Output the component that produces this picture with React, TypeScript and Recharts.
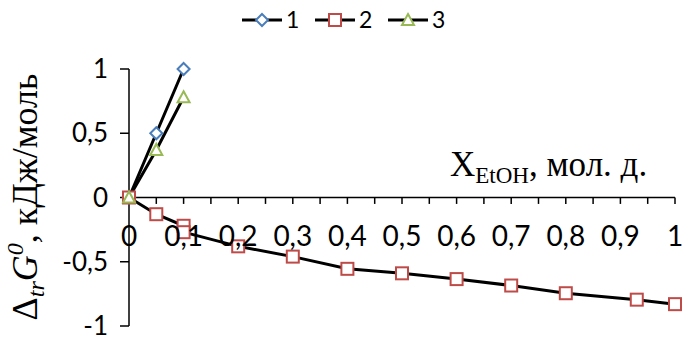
import { LineChart, Line, XAxis, YAxis, ReferenceLine } from "recharts"

// series 1
const s1X = [0, 0.05, 0.1]
const s1Y = [0, 0.5, 1]
// series 2
const s2X = [0, 0.05, 0.1, 0.1, 0.2, 0.3, 0.4, 0.5, 0.6, 0.7, 0.8, 0.93, 1]
const s2Y = [0, -0.13, -0.22, -0.27, -0.38, -0.46, -0.555, -0.59, -0.635, -0.685, -0.745, -0.795, -0.83]
// series 3
const s3X = [0, 0.05, 0.1]
const s3Y = [0, 0.37, 0.78]

const seriesNames = ["1", "2", "3"]
const seriesColors = ["#4a7ebb", "#be4b48", "#98b954"]
const seriesShapes = ["diamond", "square", "triangle"]

const xTicks = [0, 0.05, 0.1, 0.15, 0.2, 0.25, 0.3, 0.35, 0.4, 0.45, 0.5, 0.55, 0.6, 0.65, 0.7, 0.75, 0.8, 0.85, 0.9, 0.95, 1]
const xLabels = [0, 0.1, 0.2, 0.3, 0.4, 0.5, 0.6, 0.7, 0.8, 0.9, 1]
const yTicks = [-1, -0.5, 0, 0.5, 1]

const zip = (xs: number[], ys: number[]) => xs.map((x, i) => ({ x, y: ys[i] }))
const data1 = zip(s1X, s1Y)
const data2 = zip(s2X, s2Y)
const data3 = zip(s3X, s3Y)

const fmt = (v: number) => String(v).replace(".", ",")
const TICK_FONT = "Lato, 'Open Sans', sans-serif"
const SERIF = "'Liberation Serif', 'DejaVu Serif', serif"

function Marker({ shape, color, cx, cy }: { shape: string; color: string; cx: number; cy: number }) {
    if (cx == null || cy == null) return null
    if (shape === "diamond") {
        const r = 6
        return <polygon points={`${cx},${cy - r} ${cx + r},${cy} ${cx},${cy + r} ${cx - r},${cy}`} fill="#fff" stroke={color} strokeWidth={2} />
    }
    if (shape === "square") {
        const r = 6
        return <rect x={cx - r} y={cy - r} width={2 * r} height={2 * r} fill="#fff" stroke={color} strokeWidth={2} />
    }
    return <polygon points={`${cx},${cy - 6} ${cx + 6},${cy + 5} ${cx - 6},${cy + 5}`} fill="#fff" stroke={color} strokeWidth={2} />
}

const dotFor = (i: number) => (p: any) => (
    <Marker key={`d${i}-${p.index}`} shape={seriesShapes[i]} color={seriesColors[i]} cx={p.cx} cy={p.cy} />
)

export default function App() {
    return (
        <div style={{ position: "relative", width: 682, height: 340, background: "#fff" }}>
            <style>{`body{margin:0}`}</style>
            <LineChart width={682} height={340} margin={{ top: 69, right: 7, bottom: 14, left: 0 }}>
                <XAxis type="number" dataKey="x" domain={[0, 1]} hide allowDuplicatedCategory={false} />
                <YAxis
                    type="number"
                    domain={[-1, 1]}
                    ticks={yTicks}
                    interval={0}
                    width={129}
                    tickFormatter={fmt}
                    tickSize={9}
                    tickMargin={12}
                    axisLine={{ stroke: "#000", strokeWidth: 1.5 }}
                    tickLine={{ stroke: "#000", strokeWidth: 1.5 }}
                    tick={{ fill: "#000", fontSize: 26, fontFamily: TICK_FONT }}
                />
                <ReferenceLine y={0} stroke="#000" strokeWidth={1.5} />
                {xTicks.map((t) => (
                    <ReferenceLine
                        key={`t${t}`}
                        segment={[{ x: t, y: 0 }, { x: t, y: -0.05 }]}
                        stroke="#000"
                        strokeWidth={1.5}
                    />
                ))}
                {xLabels.map((t) => (
                    <ReferenceLine
                        key={`l${t}`}
                        segment={[{ x: t, y: 0 }, { x: t, y: -0.05 }]}
                        stroke="none"
                        label={{ value: fmt(t), position: "bottom", offset: 22, fill: "#000", fontSize: 28, fontFamily: TICK_FONT }}
                    />
                ))}
                <Line data={data1} dataKey="y" stroke="#000" strokeWidth={3} dot={dotFor(0)} isAnimationActive={false} />
                <Line data={data2} dataKey="y" stroke="#000" strokeWidth={3} dot={dotFor(1)} isAnimationActive={false} />
                <Line data={data3} dataKey="y" stroke="#000" strokeWidth={3} dot={dotFor(2)} isAnimationActive={false} />
            </LineChart>
            <svg width={682} height={340} style={{ position: "absolute", left: 0, top: 0, pointerEvents: "none" }}>
                {/* legend */}
                {seriesNames.map((n, i) => {
                    const x0 = 242 + i * 73
                    return (
                        <g key={n}>
                            <line x1={x0} y1={20} x2={x0 + 40} y2={20} stroke="#000" strokeWidth={3} />
                            <Marker shape={seriesShapes[i]} color={seriesColors[i]} cx={x0 + 20} cy={20} />
                            <text x={x0 + 44} y={28} fontSize={23} fontFamily={TICK_FONT} fill="#000">{n}</text>
                        </g>
                    )
                })}
                {/* x axis title */}
                <text x={450} y={176} fontSize={35} fontFamily={SERIF} fill="#000">
                    X<tspan fontSize={23} dy={7}>EtOH</tspan><tspan dy={-7}>, мол. д.</tspan>
                </text>
                {/* y axis title */}
                <text transform="translate(37,197) rotate(-90)" textAnchor="middle" fontSize={36} fontFamily={SERIF} fill="#000">
                    Δ<tspan fontSize={24} fontStyle="italic" dy={7}>tr</tspan><tspan fontStyle="italic" dy={-7}>G</tspan><tspan fontSize={24} fontStyle="italic" dy={-14}>0</tspan><tspan dy={14}>, кДж/моль</tspan>
                </text>
            </svg>
        </div>
    )
}
